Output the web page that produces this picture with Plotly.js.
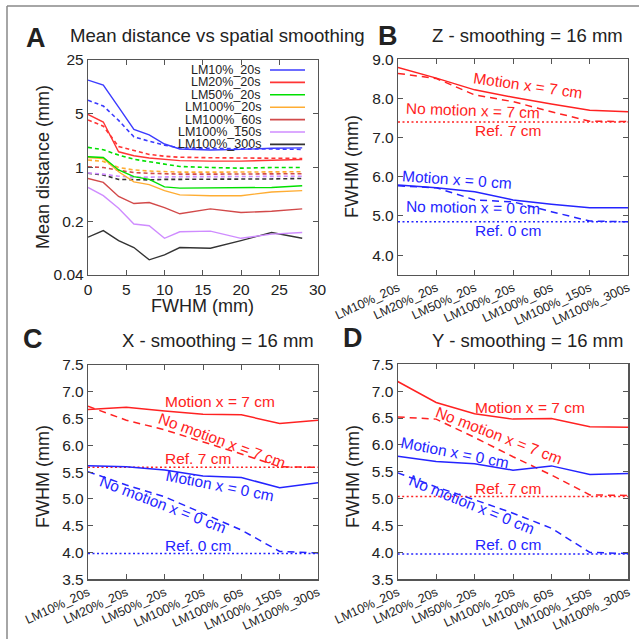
<!DOCTYPE html>
<html>
<head>
<meta charset="utf-8">
<script src="https://cdn.plot.ly/plotly-3.0.1.min.js"></script>
<style>html,body{margin:0;padding:0;background:#fff;}#chart{width:639px;height:639px;}</style>
</head>
<body>
<div id="chart"></div>
<script>
// ---------- Panel A data ----------
const fwhmA = [0, 2, 4, 6, 8, 10, 12, 16, 20, 24, 28];
const seriesNamesA = ['LM10%_20s', 'LM20%_20s', 'LM50%_20s', 'LM100%_20s', 'LM100%_60s', 'LM100%_150s', 'LM100%_300s'];
const lm10_20s_solid  = [13.7, 11.8, 6.1, 3.13, 2.65, 2.02, 1.74, 1.69, 1.72, 1.78, 1.8];
const lm10_20s_dashed = [7.5, 6.3, 4.1, 2.5, 2.2, 1.95, 1.8, 1.76, 1.75, 1.74, 1.72];
const lm20_20s_solid  = [4.9, 3.9, 1.6, 1.42, 1.33, 1.27, 1.23, 1.21, 1.21, 1.24, 1.27];
const lm20_20s_dashed = [4.15, 3.45, 1.87, 1.65, 1.48, 1.4, 1.36, 1.34, 1.33, 1.32, 1.31];
const lm50_20s_solid  = [1.38, 1.35, 0.93, 0.76, 0.7, 0.56, 0.54, 0.54, 0.54, 0.55, 0.58];
const lm50_20s_dashed = [1.83, 1.7, 1.45, 1.28, 1.19, 1.1, 1.03, 1.0, 0.98, 1.0, 1.0];
const lm100_20s_solid  = [1.35, 1.31, 0.88, 0.65, 0.6, 0.5, 0.44, 0.43, 0.43, 0.48, 0.5];
const lm100_20s_dashed = [1.25, 1.2, 1.0, 0.93, 0.9, 0.88, 0.87, 0.87, 0.87, 0.88, 0.88];
const lm100_60s_solid  = [0.72, 0.64, 0.42, 0.34, 0.35, 0.3, 0.25, 0.29, 0.26, 0.27, 0.29];
const lm100_60s_dashed = [1.02, 1.0, 0.92, 0.86, 0.84, 0.83, 0.82, 0.82, 0.82, 0.82, 0.83];
const lm100_150s_solid  = [0.55, 0.43, 0.295, 0.184, 0.175, 0.12, 0.146, 0.149, 0.12, 0.136, 0.143];
const lm100_150s_dashed = [0.85, 0.82, 0.77, 0.75, 0.75, 0.76, 0.76, 0.76, 0.76, 0.77, 0.77];
const lm100_300s_solid  = [0.124, 0.151, 0.112, 0.091, 0.063, 0.073, 0.091, 0.089, 0.112, 0.143, 0.12];
const lm100_300s_dashed = [0.84, 0.8, 0.7, 0.69, 0.69, 0.7, 0.7, 0.7, 0.71, 0.71, 0.72];
const yTickValsA = [0.04, 0.2, 1, 5, 25];
const yTickTextA = ['0.04', '0.2', '1', '5', '25'];

// ---------- Panels B-D data ----------
const categories = ['LM10%_20s', 'LM20%_20s', 'LM50%_20s', 'LM100%_20s', 'LM100%_60s', 'LM100%_150s', 'LM100%_300s'];
const z_motion7   = [8.79, 8.52, 8.22, 8.03, 7.86, 7.7, 7.66];
const z_nomotion7 = [8.64, 8.51, 8.09, 7.92, 7.66, 7.42, 7.41];
const z_ref7      = [7.4, 7.4, 7.4, 7.4, 7.4, 7.4, 7.4];
const z_motion0   = [5.79, 5.72, 5.62, 5.41, 5.3, 5.21, 5.21];
const z_nomotion0 = [5.77, 5.72, 5.41, 5.36, 5.11, 4.87, 4.85];
const z_ref0      = [4.85, 4.85, 4.85, 4.85, 4.85, 4.85, 4.85];

const x_motion7   = [6.67, 6.71, 6.64, 6.58, 6.57, 6.41, 6.47];
const x_nomotion7 = [6.73, 6.47, 6.29, 6.07, 5.84, 5.6, 5.59];
const x_ref7      = [5.59, 5.59, 5.59, 5.59, 5.59, 5.59, 5.59];
const x_motion0   = [5.62, 5.6, 5.54, 5.43, 5.4, 5.21, 5.3];
const x_nomotion0 = [5.51, 5.26, 5.04, 4.73, 4.42, 4.02, 3.99];
const x_ref0      = [3.98, 3.98, 3.98, 3.98, 3.98, 3.98, 3.98];

const y_motion7   = [7.18, 6.79, 6.58, 6.48, 6.49, 6.34, 6.33];
const y_nomotion7 = [6.52, 6.48, 6.14, 5.78, 5.44, 5.07, 5.06];
const y_ref7      = [5.04, 5.04, 5.04, 5.04, 5.04, 5.04, 5.04];
const y_motion0   = [5.79, 5.69, 5.65, 5.53, 5.61, 5.45, 5.47];
const y_nomotion0 = [5.48, 5.22, 4.98, 4.73, 4.45, 4.0, 3.98];
const y_ref0      = [3.97, 3.97, 3.97, 3.97, 3.97, 3.97, 3.97];

const labelsBCD = ['Motion x = 7 cm', 'No motion x = 7 cm', 'Ref. 7 cm', 'Motion x = 0 cm', 'No motion x = 0 cm', 'Ref. 0 cm'];

// ---------- styling ----------
const FONT = 'Liberation Sans, Arial, Helvetica, sans-serif';
const W = 639, H = 639;
const px = v => v / W;
const py = v => 1 - v / H;
const colorsA = ['#3b3bff', '#ff3535', '#00e000', '#ffad33', '#d24a4a', '#cf8cff', '#333333'];
const RED = '#ff2222', BLUE = '#2424ff';
const DASH_A = '4px,3px';
const DASH = '7px,5px';
const DOT = '2px,2.5px';

const traces = [];
const solidsA = [lm10_20s_solid, lm20_20s_solid, lm50_20s_solid, lm100_20s_solid, lm100_60s_solid, lm100_150s_solid, lm100_300s_solid];
const dashedA = [lm10_20s_dashed, lm20_20s_dashed, lm50_20s_dashed, lm100_20s_dashed, lm100_60s_dashed, lm100_150s_dashed, lm100_300s_dashed];
for (let i = dashedA.length - 1; i >= 0; i--) {
  traces.push({x: fwhmA, y: dashedA[i], xaxis: 'x', yaxis: 'y', mode: 'lines', showlegend: false,
    line: {color: colorsA[i], width: 1.6, dash: DASH_A}, name: seriesNamesA[i] + ' (dashed)'});
}
for (let i = solidsA.length - 1; i >= 0; i--) {
  traces.push({x: fwhmA, y: solidsA[i], xaxis: 'x', yaxis: 'y', mode: 'lines', showlegend: false,
    line: {color: colorsA[i], width: 1.4}, name: seriesNamesA[i]});
}

function addPanel(xa, ya, m7, n7, r7, m0, n0, r0) {
  const set = [[r7, RED, DOT], [n7, RED, DASH], [m7, RED, 'solid'], [r0, BLUE, DOT], [n0, BLUE, DASH], [m0, BLUE, 'solid']];
  set.forEach(s => traces.push({x: categories, y: s[0], xaxis: xa, yaxis: ya, mode: 'lines', showlegend: false,
    line: {color: s[1], width: 1.5, dash: s[2]}}));
}
addPanel('x2', 'y2', z_motion7, z_nomotion7, z_ref7, z_motion0, z_nomotion0, z_ref0);
addPanel('x3', 'y3', x_motion7, x_nomotion7, x_ref7, x_motion0, x_nomotion0, x_ref0);
addPanel('x4', 'y4', y_motion7, y_nomotion7, y_ref7, y_motion0, y_nomotion0, y_ref0);

const axisBase = {showline: true, mirror: 'ticks', linecolor: '#555', linewidth: 1.2, ticks: 'inside', ticklen: 5,
  tickcolor: '#555', showgrid: false, zeroline: false, tickfont: {family: FONT, size: 15.5, color: '#222'}};
const catAxis = (dom, anchor) => Object.assign({}, axisBase, {domain: dom, anchor: anchor, type: 'category', range: [0, 6],
  tickangle: -25, tickfont: {family: FONT, size: 12.5, color: '#222'}});

const layout = {
  width: W, height: H, margin: {l: 0, r: 0, t: 0, b: 0}, paper_bgcolor: '#fff', plot_bgcolor: '#fff',
  showlegend: false, font: {family: FONT, color: '#222'},
  xaxis: Object.assign({}, axisBase, {domain: [px(88), px(317.5)], anchor: 'y', range: [0, 30], dtick: 5, tick0: 0}),
  yaxis: Object.assign({}, axisBase, {domain: [py(275), py(60)], anchor: 'x', type: 'log',
    range: [Math.log10(0.04), Math.log10(25)], tickvals: yTickValsA, ticktext: yTickTextA}),
  xaxis2: catAxis([px(398), px(628)], 'y2'),
  yaxis2: Object.assign({}, axisBase, {domain: [py(274.7), py(59.3)], anchor: 'x2', range: [3.5, 9.0], tick0: 4, dtick: 1, tickformat: '.1f'}),
  xaxis3: catAxis([px(88), px(318)], 'y3'),
  yaxis3: Object.assign({}, axisBase, {domain: [py(579.3), py(365)], anchor: 'x3', range: [3.5, 7.5], tick0: 3.5, dtick: 0.5, tickformat: '.1f'}),
  xaxis4: catAxis([px(397.7), px(628.3)], 'y4'),
  yaxis4: Object.assign({}, axisBase, {domain: [py(579.3), py(364.3)], anchor: 'x4', range: [3.5, 7.5], tick0: 3.5, dtick: 0.5, tickformat: '.1f'}),
  annotations: [], shapes: []
};

const ann = layout.annotations;
function paperText(text, x, y, size, opts) {
  ann.push(Object.assign({text: text, xref: 'paper', yref: 'paper', x: px(x), y: py(y), showarrow: false,
    xanchor: 'center', yanchor: 'middle', font: {family: FONT, size: size, color: '#222'}}, opts || {}));
}
// panel letters
paperText('<b>A</b>', 36, 38, 27);
paperText('<b>B</b>', 388, 36, 27);
paperText('<b>C</b>', 33, 339, 27);
paperText('<b>D</b>', 353, 338, 27);
// panel titles
paperText('Mean distance vs spatial smoothing', 217, 35, 18.6);
paperText('Z - smoothing = 16 mm', 527, 35, 18.5);
paperText('X - smoothing = 16 mm', 218, 340, 18.5);
paperText('Y - smoothing = 16 mm', 527, 340, 18.5);
// axis titles
paperText('Mean distance (mm)', 43, 167, 18, {textangle: -90});
paperText('FWHM (mm)', 203, 306, 18);
paperText('FWHM (mm)', 352, 167, 18, {textangle: -90});
paperText('FWHM (mm)', 43, 477, 18, {textangle: -90});
paperText('FWHM (mm)', 353, 477, 18, {textangle: -90});

// legend panel A (text right aligned, sample line to the right)
const legRow0 = 70, legStep = 12.4;
seriesNamesA.forEach((n, i) => {
  const yy = legRow0 + i * legStep;
  paperText(n, 263, yy, 12.5, {xanchor: 'right'});
  layout.shapes.push({type: 'line', xref: 'paper', yref: 'paper', x0: px(270), x1: px(305), y0: py(yy), y1: py(yy),
    line: {color: colorsA[i], width: 1.6}});
});

// in-plot labels for B, C, D (positions in data units of each panel)
function panelLabels(xa, ya, pos) {
  pos.forEach((p, i) => {
    ann.push({text: labelsBCD[i], xref: xa, yref: ya, x: p[0], y: p[1], showarrow: false, textangle: p[2],
      xanchor: 'center', yanchor: 'middle', font: {family: FONT, size: 15.5, color: i < 3 ? RED : BLUE}});
  });
}
panelLabels('x2', 'y2', [[3.4, 8.32, 8], [1.96, 7.69, 2], [2.86, 7.17, 0], [1.53, 5.93, 4], [1.96, 5.21, 1], [2.86, 4.64, 0]]);
panelLabels('x3', 'y3', [[3.44, 6.82, 0], [3.49, 6.09, 20], [2.88, 5.76, 0], [3.44, 5.25, 11], [1.96, 4.89, 21], [2.88, 4.14, 0]]);
panelLabels('x4', 'y4', [[3.44, 6.70, 0], [2.64, 6.18, 21], [2.86, 5.19, 0], [1.49, 5.86, 11], [1.93, 4.9, 22], [2.86, 4.14, 0]]);

// outer frame (left and top edges)
layout.shapes.push({type: 'line', xref: 'paper', yref: 'paper', x0: px(7), x1: px(7), y0: py(6), y1: 0, line: {color: '#888', width: 1.5}});
layout.shapes.push({type: 'line', xref: 'paper', yref: 'paper', x0: px(7), x1: 1, y0: py(6), y1: py(6), line: {color: '#888', width: 1.5}});

Plotly.newPlot('chart', traces, layout, {staticPlot: true, displayModeBar: false});
</script>
</body>
</html>
